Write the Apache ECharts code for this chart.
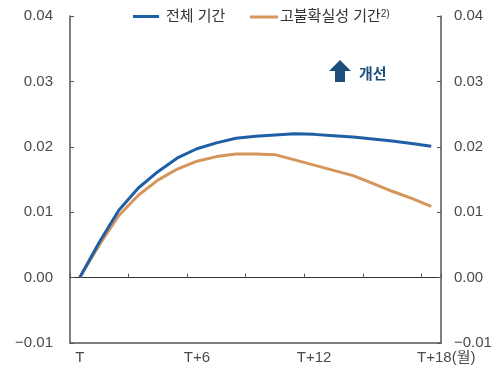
<!DOCTYPE html>
<html>
<head>
<meta charset="utf-8">
<script src="https://cdn.jsdelivr.net/npm/echarts@6/dist/echarts.min.js"></script>
<style>
  html, body { margin: 0; padding: 0; background: #fff; }
  #chart { width: 501px; height: 372px; }
</style>
</head>
<body>
<div id="chart"></div>
<script>
// Months after shock, T .. T+18
const months = ['T','T+1','T+2','T+3','T+4','T+5','T+6','T+7','T+8','T+9',
                'T+10','T+11','T+12','T+13','T+14','T+15','T+16','T+17','T+18'];
// Cumulative response, whole sample
const allPeriod = [0, 0.0054, 0.0103, 0.0137, 0.0162, 0.0183, 0.0197, 0.0206, 0.0213, 0.0216,
                   0.0218, 0.0220, 0.0219, 0.0217, 0.0215, 0.0212, 0.0209, 0.0205, 0.0201];
// Cumulative response, high-uncertainty periods
const highUncertainty = [0, 0.0050, 0.0095, 0.0126, 0.0149, 0.0166, 0.0178, 0.0185, 0.0189, 0.0189,
                         0.0188, 0.0180, 0.0172, 0.0164, 0.0156, 0.0144, 0.0132, 0.0121, 0.0109];
const seriesNames = ['전체 기간', '고불확실성 기간'];
const yTicks = { min: -0.01, max: 0.04, step: 0.01 };

const FONT = '"Liberation Sans", "Noto Sans CJK KR", sans-serif';
const BLUE = '#1f5fa5';
const ORANGE = '#d6955a';
const AXIS = '#555';
const LABEL = '#4a4a4a';

function fmtY(v) {
  const s = Math.abs(v).toFixed(2);
  return v < -1e-9 ? '\u2212' + s : s;
}

const yAxisBase = {
  type: 'value',
  min: yTicks.min, max: yTicks.max, interval: yTicks.step,
  splitLine: { show: false },
  axisLine: { show: true, onZero: false, lineStyle: { color: AXIS, width: 1.5 } },
  axisTick: { show: true, inside: true, length: 4, lineStyle: { color: AXIS } },
  axisLabel: { formatter: fmtY, color: LABEL, fontSize: 15, fontFamily: FONT }
};

const chart = echarts.init(document.getElementById('chart'), null, { renderer: 'canvas' });
chart.setOption({
  animation: false,
  grid: { left: 70, right: 60, top: 16, bottom: 29, containLabel: false },
  legend: [
    {
      data: [seriesNames[0]], left: 128, top: 4, icon: 'rect',
      itemWidth: 26, itemHeight: 3, itemGap: 8,
      textStyle: { color: '#333', fontSize: 15, fontFamily: FONT, padding: [0, 0, 0, 2] }
    },
    {
      data: [seriesNames[1]], left: 245, top: 4, icon: 'rect',
      itemWidth: 28, itemHeight: 3,
      formatter: n => n + '{s|2)}',
      textStyle: {
        color: '#333', fontSize: 15, fontFamily: FONT, padding: [0, 0, 0, -3],
        rich: { s: { fontSize: 10, color: '#333', fontFamily: FONT, verticalAlign: 'top', padding: [0, 0, 6, 0] } }
      }
    }
  ],
  xAxis: [
    {
      type: 'category', data: months, boundaryGap: true, position: 'bottom',
      axisLine: { show: true, onZero: false, lineStyle: { color: AXIS, width: 1.5 } },
      axisTick: { show: false },
      axisLabel: {
        interval: 5, margin: 7, color: LABEL, fontSize: 15, fontFamily: FONT,
        formatter: (v, i) => i === months.length - 1 ? '{p|}' + v + '(월)' : v,
        rich: { p: { width: 30 } }
      }
    },
    {
      type: 'category', data: months, boundaryGap: true, position: 'bottom',
      axisLine: { show: true, onZero: true, lineStyle: { color: '#333', width: 1.2 } },
      axisTick: { show: true, inside: true, interval: 2, length: 4, lineStyle: { color: AXIS } },
      axisLabel: { show: false }
    }
  ],
  yAxis: [
    Object.assign({}, yAxisBase, { position: 'left', axisLabel: Object.assign({}, yAxisBase.axisLabel, { margin: 17 }) }),
    Object.assign({}, yAxisBase, { position: 'right', axisLabel: Object.assign({}, yAxisBase.axisLabel, { margin: 13 }) })
  ],
  series: [
    {
      name: seriesNames[0], type: 'line', data: allPeriod, xAxisIndex: 0, yAxisIndex: 0,
      showSymbol: false, lineStyle: { color: BLUE, width: 3 }, itemStyle: { color: BLUE }, z: 3
    },
    {
      name: seriesNames[1], type: 'line', data: highUncertainty, xAxisIndex: 0, yAxisIndex: 0,
      showSymbol: false, lineStyle: { color: ORANGE, width: 3 }, itemStyle: { color: ORANGE }, z: 2
    }
  ],
  graphic: [
    {
      type: 'polygon',
      shape: { points: [[340, 60], [351, 71], [345, 71], [345, 82], [335, 82], [335, 71], [329, 71]] },
      style: { fill: '#1d4f7c' }
    },
    {
      type: 'text', left: 359, top: 66,
      style: { text: '개선', fill: '#1d4f7c', font: 'bold 15px "Noto Sans CJK KR", sans-serif' }
    }
  ]
});
</script>
</body>
</html>
